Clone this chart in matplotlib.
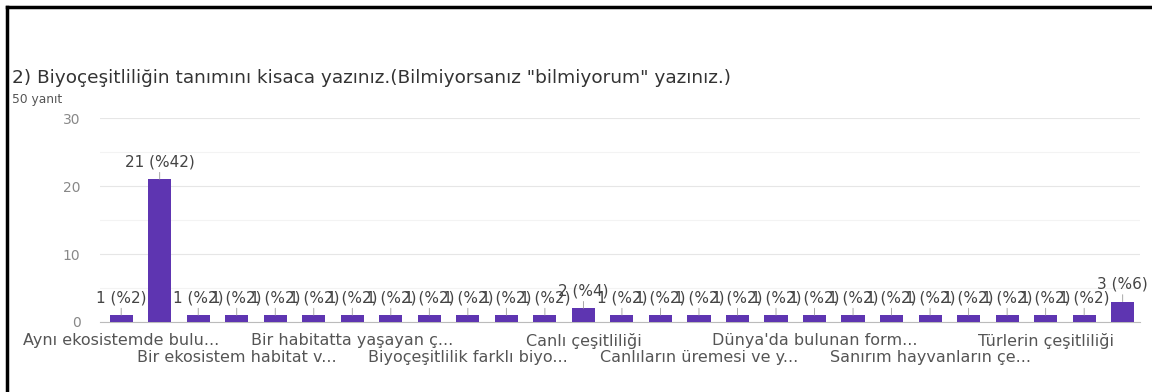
import matplotlib.pyplot as plt
from matplotlib.lines import Line2D

plt.rcParams['font.family'] = ['DejaVu Sans']

# answer counts, sorted the way the form lists them
counts = [1, 21, 1, 1, 1, 1, 1, 1, 1, 1, 1, 1, 2,
          1, 1, 1, 1, 1, 1, 1, 1, 1, 1, 1, 1, 1, 3]
total = 50

# only every third category gets a label on the axis
shown_labels = ['Aynı ekosistemde bulu...', 'Bir ekosistem habitat v...',
                'Bir habitatta yaşayan ç...', 'Biyoçeşitlilik farklı biyo...',
                'Canlı çeşitliliği', 'Canlıların üremesi ve y...',
                "Dünya'da bulunan form...", 'Sanırım hayvanların çe...',
                'Türlerin çeşitliliği']
shown_pos = list(range(0, len(counts), 3))

purple = '#5e35b1'

fig = plt.figure(figsize=(11.52, 3.92), dpi=100)
ax = fig.add_axes([0.0868, 0.1786, 0.9028, 0.520])

x = list(range(len(counts)))
ax.bar(x, counts, width=0.6, color=purple, zorder=3)

for xi, c in zip(x, counts):
    pct = round(c * 100 / total)
    ax.annotate(f'{c} (%{pct})', xy=(xi, c), xytext=(0, 7), textcoords='offset points',
                ha='center', va='bottom', fontsize=11, color='#444444',
                arrowprops=dict(arrowstyle='-', color='#999999', lw=0.6,
                                shrinkA=0, shrinkB=0), zorder=4, annotation_clip=False)

ax.set_xlim(-0.55, 26.45)
ax.set_ylim(0, 30)
ax.set_yticks([0, 10, 20, 30])
ax.grid(axis='y', color='#e6e6e6', lw=0.8, zorder=0)
for yv in [5, 15, 25]:
    ax.axhline(yv, color='#f3f3f3', lw=0.8, zorder=0)
ax.tick_params(axis='y', length=0, labelsize=10, labelcolor='#888888', pad=14)

# labels alternate between two rows: major ticks on the upper row, minor on the lower
ax.set_xticks(shown_pos[0::2])
ax.set_xticklabels(shown_labels[0::2])
ax.set_xticks(shown_pos[1::2], minor=True)
ax.set_xticklabels(shown_labels[1::2], minor=True)
ax.tick_params(axis='x', which='major', length=0, pad=8, labelsize=11.5, labelcolor='#555555')
ax.tick_params(axis='x', which='minor', length=0, pad=20, labelsize=11.5, labelcolor='#555555')

for side in ['top', 'right', 'left']:
    ax.spines[side].set_visible(False)
ax.spines['bottom'].set_color('#bbbbbb')
ax.spines['bottom'].set_linewidth(0.8)

fig.text(0.0104, 0.80, '2) Biyoçeşitliliğin tanımını kisaca yazınız.(Bilmiyorsanız "bilmiyorum" yazınız.)',
         fontsize=13.3, color='#333333', ha='left', va='center')
fig.text(0.0104, 0.745, '50 yanıt', fontsize=8.8, color='#555555', ha='left', va='center')

# frame on the top and left edges
fig.add_artist(Line2D([0.006, 1.0], [0.983, 0.983], color='black', lw=2.5, transform=fig.transFigure))
fig.add_artist(Line2D([0.006, 0.006], [0.0, 0.983], color='black', lw=2.5, transform=fig.transFigure))

fig.savefig('out.png', dpi=100)
